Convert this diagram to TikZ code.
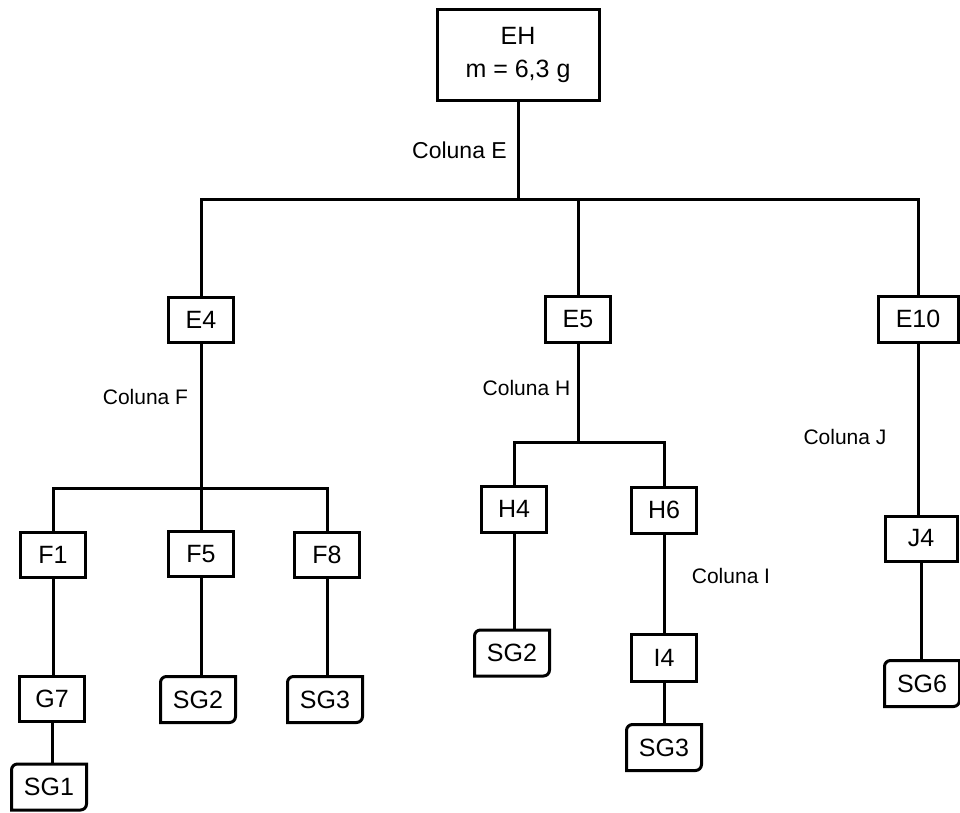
\documentclass[tikz,border=0pt]{standalone}
\usepackage{fontspec}
\setmainfont{Liberation Sans}
\begin{document}
\begin{tikzpicture}[x=1pt, y=-1pt, line width=3pt,
    box/.style={draw, rectangle, inner sep=0pt, minimum width=65pt, minimum height=45pt,
      font=\fontsize{25}{33}\selectfont},
    sgbox/.style={rectangle, inner sep=0pt, minimum width=72pt, minimum height=43pt,
      font=\fontsize{25}{33}\selectfont},
    col/.style={font=\fontsize{21}{25}\selectfont}]
    \useasboundingbox (0,0) rectangle (960,812);
    % top
    \node[box, align=center, minimum width=162pt, minimum height=91pt] (eh) at (518,55) {EH\\m = 6,3 g};
    \node[col, font=\fontsize{23}{27}\selectfont] (colE) at (459.5,150) {Coluna E};
    \coordinate (jE) at (518,199);
    \node[box] (e4) at (201,320) {E4};
    \node[box, minimum height=46pt] (e5) at (578,319) {E5};
    \node[box, minimum width=80pt, minimum height=46pt] (e10) at (918,319) {E10};
    \draw (eh) -- (jE);
    \draw (e4.north) -- (e4 |- jE) -- (e10 |- jE) -- (e10.north);
    \draw (e5.north) -- (e5 |- jE);
    % coluna F
    \node[col] (colF) at (145.5,397) {Coluna F};
    \coordinate (jF) at (201,488);
    \node[box] (f1) at (53,554.5) {F1};
    \node[box] (f5) at (201,554) {F5};
    \node[box] (f8) at (327,554.5) {F8};
    \node[box] (g7) at (52,698.5) {G7};
    \node[sgbox] (sg1) at (49,787) {SG1};
    \node[sgbox] (sg2) at (198,699.5) {SG2};
    \node[sgbox] (sg3) at (325,699.5) {SG3};
    \draw (e4) -- (jF);
    \draw (f1.north) -- (f1 |- jF) -- (f8 |- jF) -- (f8.north);
    \draw (f5.north) -- (f5 |- jF);
    \draw (f1) -- (f1 |- g7.north);
    \draw (g7) -- (g7 |- sg1.north);
    \draw (f5) -- (f5 |- sg2.north);
    \draw (f8) -- (f8 |- sg3.north);
    % coluna H
    \node[col] (colH) at (526.5,388) {Coluna H};
    \coordinate (jH) at (578,442);
    \node[box, minimum height=46pt] (h4) at (514,509) {H4};
    \node[box, minimum height=46pt] (h6) at (664,510) {H6};
    \node[sgbox] (sg2b) at (512,653) {SG2};
    \node[col] (colI) at (731,576) {Coluna I};
    \node[box, minimum height=47pt] (i4) at (664,657.5) {I4};
    \node[sgbox] (sg3b) at (664,747.5) {SG3};
    \draw (e5) -- (jH);
    \draw (h4.north) -- (h4 |- jH) -- (h6 |- jH) -- (h6.north);
    \draw (h4) -- (h4 |- sg2b.north);
    \draw (h6) -- (i4) -- (sg3b);
    % coluna J
    \node[col] (colJ) at (845,437) {Coluna J};
    \node[box, minimum width=72pt] (j4) at (921,538.5) {J4};
    \node[sgbox] (sg6) at (922,683.5) {SG6};
    \draw (e10) -- (e10 |- j4.north);
    \draw (j4) -- (j4 |- sg6.north);
    % SG boxes
    \foreach \n in {sg1,sg2,sg3,sg2b,sg3b,sg6}
      \draw ([yshift=-6pt]\n.north west) arc[start angle=180, end angle=90, radius=6pt]
        -- (\n.north east) -- ([yshift=6pt]\n.south east)
        arc[start angle=0, end angle=-90, radius=6pt] -- (\n.south west) -- cycle;
  \end{tikzpicture}
\end{document}
